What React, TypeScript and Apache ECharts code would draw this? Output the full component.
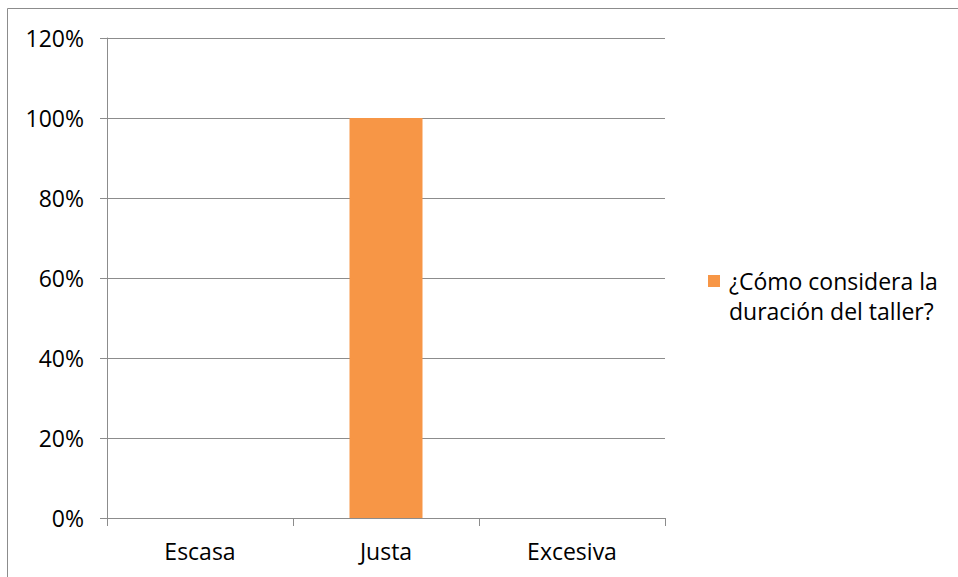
import React, { useEffect, useRef } from "react";
import * as echarts from "echarts";

const categories = ["Escasa", "Justa", "Excesiva"];
const seriesName = "¿Cómo considera la duración del taller?";
const values = [0, 1, 0];
const yTicks = [0, 0.2, 0.4, 0.6, 0.8, 1.0, 1.2];

const FONT = "'Open Sans', 'Noto Sans', sans-serif";
const GRID_COLOR = "#8c8c8c";

export default function App() {
  const ref = useRef<HTMLDivElement>(null);
  useEffect(() => {
    if (!ref.current) return;
    const chart = echarts.init(ref.current, undefined, { renderer: "svg" });
    chart.setOption({
      animation: false,
      backgroundColor: "#ffffff",
      textStyle: { fontFamily: FONT },
      grid: { left: 107, right: 293, top: 38, bottom: 59 },
      xAxis: {
        type: "category",
        data: categories,
        axisLine: { lineStyle: { color: GRID_COLOR, width: 1 } },
        axisTick: { show: true, length: 8, alignWithLabel: false, lineStyle: { color: GRID_COLOR } },
        axisLabel: { color: "#000", fontSize: 23, fontFamily: FONT, margin: 21 },
      },
      yAxis: {
        type: "value",
        min: yTicks[0],
        max: yTicks[yTicks.length - 1],
        interval: 0.2,
        axisLine: { show: true, lineStyle: { color: GRID_COLOR, width: 1 } },
        axisTick: { show: true, length: 7, lineStyle: { color: GRID_COLOR } },
        splitLine: { show: true, lineStyle: { color: GRID_COLOR, width: 1 } },
        axisLabel: {
          color: "#000",
          fontSize: 23,
          fontFamily: FONT,
          margin: 23,
          formatter: (v: number) => Math.round(v * 100) + "%",
        },
      },
      legend: {
        orient: "vertical",
        left: 708,
        top: 236,
        padding: 0,
        icon: "rect",
        itemWidth: 12,
        itemHeight: 12,
        itemGap: 6,
        data: [seriesName],
        formatter: () => " \n¿Cómo considera la\nduración del taller?",
        textStyle: {
          color: "#000",
          fontSize: 23,
          fontFamily: FONT,
          lineHeight: 30,
          padding: [0, 0, 0, 4],
        },
      },
      series: [
        {
          name: seriesName,
          type: "bar",
          data: values,
          barWidth: 73,
          itemStyle: { color: "#F79646" },
        },
      ],
      graphic: [
        {
          type: "rect",
          shape: { x: 7.5, y: 8.5, width: 1000, height: 1000 },
          style: { fill: "none", stroke: "#8c8c8c", lineWidth: 1 },
          silent: true,
          z: 100,
        },
      ],
    });
    return () => chart.dispose();
  }, []);
  return (
    <div
      ref={ref}
      style={{ position: "absolute", left: 0, top: 0, width: 958, height: 577 }}
    />
  );
}
